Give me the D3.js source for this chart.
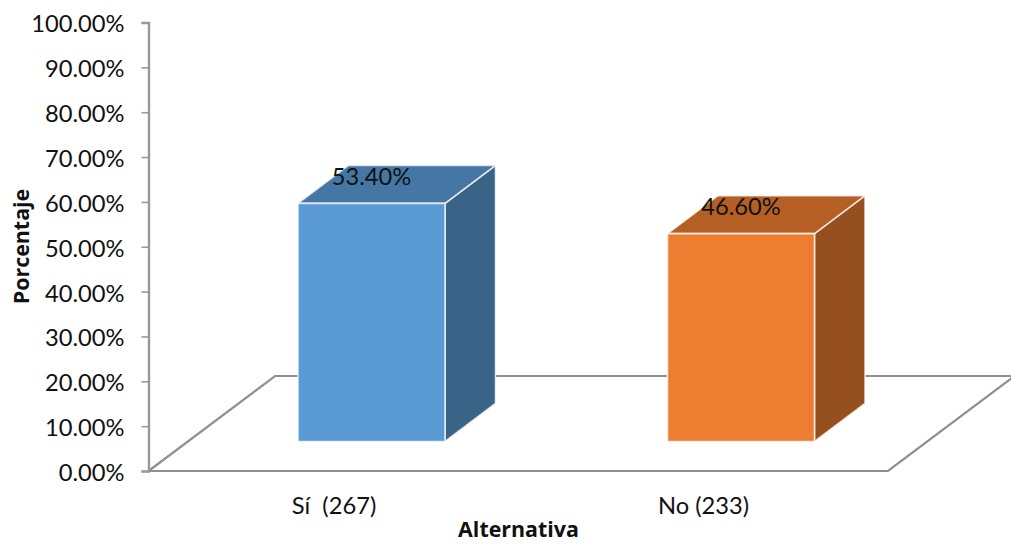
<!DOCTYPE html>
<html>
<head>
<meta charset="utf-8">
<script src="https://cdn.jsdelivr.net/npm/d3@7"></script>
<style>
  html, body { margin: 0; padding: 0; background: #fff; }
  svg { display: block; }
  text { font-family: Lato, sans-serif; fill: #111; }
  .tick text { font-size: 23.7px; }
  .title { font-family: "Open Sans", sans-serif; font-size: 21.4px; font-weight: bold; }
</style>
</head>
<body>
<svg width="1011" height="546"></svg>
<script>
const categories = ['Sí  (267)', 'No (233)'];
const percentages = [53.4, 46.6];
const barColors = ['#5b9bd5', '#ed7d31'];
const topColors = ['#4677a4', '#b65f25'];
const sideColors = ['#3a6487', '#964f1f'];
const yTicks = [0, 10, 20, 30, 40, 50, 60, 70, 80, 90, 100];

let svg = d3.select('svg');
let depth = {'x': 50.5, 'y': -38};        // bar depth
let floorDepth = {'x': 126.5, 'y': -95};  // floor depth
let barWidth = 147;

// Scales
let y = d3.scaleLinear().domain([0, 100]).range([471, 22.5]);
let barH = d3.scaleLinear().domain([0, 100]).range([441.5, -4.5]);   // front face sits above the floor edge
let x = d3.scalePoint().domain(categories).range([371.5, 741]);

// Floor
let floorPts = [[148.5, 471], [888, 471], [888 + floorDepth.x, 471 + floorDepth.y],
                [148.5 + floorDepth.x, 471 + floorDepth.y]];
svg.append('path')
    .attr('d', d3.line()(floorPts) + 'Z')
    .attr('fill', 'none')
    .attr('stroke', '#8f8f8f')
    .attr('stroke-width', 2.2);

// Y axis
let yAxis = d3.axisLeft(y)
    .tickValues(yTicks)
    .tickSize(7)
    .tickPadding(17)
    .tickFormat(d => d.toFixed(2) + '%');
let gy = svg.append('g')
    .attr('transform', 'translate(148.5, 0)')
    .call(yAxis);
gy.select('.domain').attr('stroke', '#999').attr('stroke-width', 2.4);
gy.selectAll('.tick line').attr('stroke', '#999').attr('stroke-width', 1.6);
gy.selectAll('.tick text').attr('dy', '0.4em');

// Bars
let bars = svg.selectAll('g.bar')
    .data(categories).enter().append('g')
    .attr('class', 'bar');

bars.each(function(c, i) {
    let g = d3.select(this);
    let x0 = x(c) - barWidth / 2, x1 = x0 + barWidth;
    let yT = barH(percentages[i]), yB = barH(0);
    let poly = (pts, fill) => g.append('path')
        .attr('d', d3.line()(pts) + 'Z')
        .attr('fill', fill)
        .attr('stroke', '#fff')
        .attr('stroke-opacity', 0.75)
        .attr('stroke-width', 1.6)
        .attr('stroke-linejoin', 'round');

    poly([[x1, yT], [x1 + depth.x, yT + depth.y], [x1 + depth.x, yB + depth.y], [x1, yB]], sideColors[i]);
    poly([[x0, yT], [x0 + depth.x, yT + depth.y], [x1 + depth.x, yT + depth.y], [x1, yT]], topColors[i]);
    poly([[x0, yT], [x1, yT], [x1, yB], [x0, yB]], barColors[i]);
});

// Value labels
svg.selectAll('text.value')
    .data(categories).enter().append('text')
    .attr('class', 'value')
    .attr('x', d => x(d))
    .attr('y', (d, i) => barH(percentages[i]) - 18.5)
    .attr('text-anchor', 'middle')
    .attr('font-size', 23.7)
    .text((d, i) => percentages[i].toFixed(2) + '%');

// Category labels
svg.selectAll('text.cat')
    .data(categories).enter().append('text')
    .attr('class', 'cat')
    .attr('x', d => x(d) - 37.5)
    .attr('y', 514)
    .attr('text-anchor', 'middle')
    .attr('font-size', 23.7)
    .style('white-space', 'pre')
    .text(d => d);

// Axis titles
svg.append('text')
    .attr('class', 'title')
    .attr('x', 518.5).attr('y', 537)
    .attr('text-anchor', 'middle')
    .text('Alternativa');
svg.append('text')
    .attr('class', 'title')
    .attr('transform', 'translate(29, 246.5) rotate(-90)')
    .attr('text-anchor', 'middle')
    .text('Porcentaje');
</script>
</body>
</html>
